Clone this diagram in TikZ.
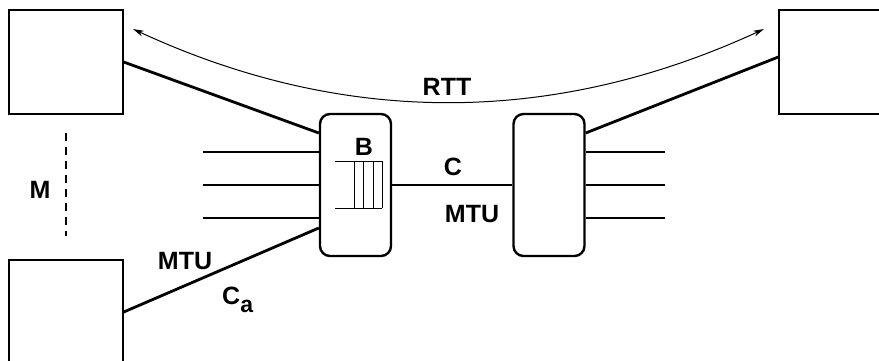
\documentclass[tikz,border=0pt]{standalone}
\usepackage{fontspec}
\setmainfont{Liberation Sans}
\usetikzlibrary{arrows.meta,calc}
\begin{document}
\begin{tikzpicture}[x=1pt,y=-1pt,
  host/.style={draw,line width=1.4pt,rectangle,minimum width=114pt,minimum height=104pt,inner sep=0pt},
  router/.style={draw,line width=2.4pt,rounded corners=10pt,minimum width=71pt,minimum height=142pt,inner sep=0pt},
  wire/.style={line width=2.8pt},
  thin/.style={line width=1pt},
  lbl/.style={font=\fontsize{25}{25}\selectfont\bfseries,inner sep=0pt}]
\useasboundingbox (0,0) rectangle (879,360);
% hosts
\node[host] (h1) at (66,62) {};
\node[host,minimum width=121pt] (h2) at (839.5,62) {};
\node[host] (h3) at (66,312) {};
% routers
\node[router] (r1) at (355.5,185) {};
\node[router] (r2) at (549,185) {};
% connections
\draw[wire] (h1.east) -- ([yshift=52pt]r1.west);
\draw[wire] (h3.east) -- ([yshift=-43pt]r1.west);
\draw[wire] ([yshift=5pt]h2.west) -- ([yshift=52pt]r2.east);
\draw[wire] (r1.east) -- (r2.west);
% stubs
\coordinate (s1) at (203,152);
\coordinate (s2) at (203,185);
\coordinate (s3) at (203,218);
\coordinate (t1) at (665,152);
\coordinate (t2) at (665,185);
\coordinate (t3) at (665,218);
\draw[wire] (s1) -- ([yshift=33pt]r1.west);
\draw[wire] (s2) -- (r1.west);
\draw[wire] (s3) -- ([yshift=-33pt]r1.west);
\draw[wire] (t1) -- ([yshift=33pt]r2.east);
\draw[wire] (t2) -- (r2.east);
\draw[wire] (t3) -- ([yshift=-33pt]r2.east);
% buffer
\draw[thin] (335,161) -- (382,161) (335,208) -- (382,208);
\foreach \xx in {354,363.5,373,382} \draw[thin] (\xx,161) -- (\xx,208);
% dashed M line
\coordinate (m1) at (66,133);
\coordinate (m2) at (66,236);
\draw[line width=1.2pt,dash pattern=on 8pt off 6pt] (m1) -- (m2);
% RTT arc
\coordinate (a1) at (133,29);
\coordinate (a2) at (764,29);
\draw[line width=1pt,{Stealth[length=11pt,width=6pt]}-{Stealth[length=11pt,width=6pt]}] (a1) .. controls (343,126.3) and (553.3,126.3) .. (a2);
% labels
\node[lbl] (rtt) at (447,87) {RTT};
\node[lbl] (b) at (364,147) {B};
\node[lbl] (c) at (453,167) {C};
\node[lbl] (mtu) at (472,214) {MTU};
\node[lbl] (m) at (40,190) {M};
\node[lbl] (mtu2) at (185,261) {MTU};
\node[lbl,anchor=base west] (ca) at (222,304) {C\raisebox{-8pt}{\fontsize{23}{23}\selectfont a}};
\end{tikzpicture}
\end{document}
